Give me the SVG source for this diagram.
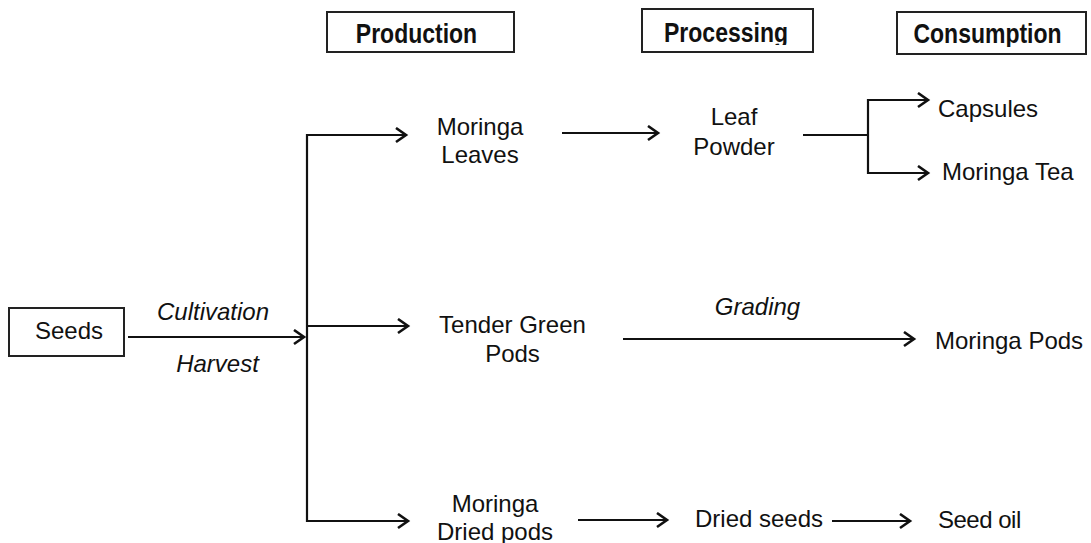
<svg xmlns="http://www.w3.org/2000/svg" width="1091" height="543" viewBox="0 0 1091 543">
<style>
.t{font-family:"Liberation Sans",Arial,sans-serif;font-size:24px;fill:#111;}
.i{font-style:italic;}
.h{font-family:"Liberation Sans",Arial,sans-serif;font-size:23px;font-weight:bold;fill:#111;}
.box{fill:#fff;stroke:#222;stroke-width:2;}
.ln{fill:none;stroke:#111;stroke-width:2.2;}
.ar{fill:none;stroke:#111;stroke-width:2.2;marker-end:url(#ah);}
</style>
<defs>
<marker id="ah" markerUnits="userSpaceOnUse" markerWidth="16" markerHeight="18" refX="12" refY="8" orient="auto">
<path d="M2,1 L12,8 L2,15" fill="none" stroke="#111" stroke-width="2.6"/>
</marker>
<clipPath id="cp1"><rect x="642" y="0" width="172" height="45"/></clipPath>
<clipPath id="cp2"><rect x="897" y="0" width="190" height="47"/></clipPath>
</defs>
<rect width="1091" height="543" fill="#fff"/>

<g id="hdr-production">
<rect class="box" x="327" y="12" width="187" height="40"/>
<text class="h" text-anchor="middle" transform="translate(416.5,43) scale(1,1.2)">Production</text>
</g>
<g id="hdr-processing">
<rect class="box" x="642" y="9" width="171" height="43"/>
<g clip-path="url(#cp1)"><text class="h" text-anchor="middle" transform="translate(726,42) scale(1,1.2)">Processing</text></g>
</g>
<g id="hdr-consumption">
<rect class="box" x="897" y="12" width="189" height="42"/>
<g clip-path="url(#cp2)"><text class="h" text-anchor="middle" transform="translate(987.5,43) scale(1,1.2)">Consumption</text></g>
</g>

<g id="connectors">
<line class="ar" x1="128" y1="337" x2="304" y2="337"/>
<line class="ln" x1="307" y1="134" x2="307" y2="522"/>
<line class="ar" x1="306" y1="135" x2="406" y2="135"/>
<line class="ar" x1="306" y1="326" x2="408" y2="326"/>
<line class="ar" x1="306" y1="521" x2="408" y2="521"/>
<line class="ar" x1="562" y1="133" x2="658" y2="133"/>
<polyline class="ln" points="803,135 868,135"/>
<line class="ln" x1="868" y1="99" x2="868" y2="174"/>
<line class="ar" x1="867" y1="100" x2="928" y2="100"/>
<line class="ar" x1="867" y1="173" x2="928" y2="173"/>
<line class="ar" x1="623" y1="339" x2="914" y2="339"/>
<line class="ar" x1="578" y1="520" x2="667" y2="520"/>
<line class="ar" x1="832" y1="521" x2="910" y2="521"/>
</g>

<g id="seeds">
<rect class="box" x="9" y="308" width="115" height="48"/>
<text class="t" x="69" y="339" text-anchor="middle">Seeds</text>
</g>
<g id="lbl-cultivation"><text class="t i" x="213" y="320" text-anchor="middle">Cultivation</text></g>
<g id="lbl-harvest"><text class="t i" x="217.5" y="372" text-anchor="middle">Harvest</text></g>

<g id="moringa-leaves">
<text class="t" x="480" y="135" text-anchor="middle">Moringa</text>
<text class="t" x="480" y="163" text-anchor="middle">Leaves</text>
</g>
<g id="leaf-powder">
<text class="t" x="734" y="125" text-anchor="middle">Leaf</text>
<text class="t" x="734" y="155" text-anchor="middle">Powder</text>
</g>
<g id="capsules"><text class="t" x="938" y="117">Capsules</text></g>
<g id="moringa-tea"><text class="t" x="942" y="180">Moringa Tea</text></g>

<g id="tender-green-pods">
<text class="t" x="512.5" y="333" text-anchor="middle">Tender Green</text>
<text class="t" x="512.5" y="362" text-anchor="middle">Pods</text>
</g>
<g id="lbl-grading"><text class="t i" x="757.5" y="315" text-anchor="middle">Grading</text></g>
<g id="moringa-pods"><text class="t" x="935" y="349">Moringa Pods</text></g>

<g id="moringa-dried-pods">
<text class="t" x="495" y="512" text-anchor="middle">Moringa</text>
<text class="t" x="495" y="540" text-anchor="middle">Dried pods</text>
</g>
<g id="dried-seeds"><text class="t" x="695" y="527">Dried seeds</text></g>
<g id="seed-oil"><text class="t" x="938" y="528" letter-spacing="-0.5">Seed oil</text></g>
</svg>
